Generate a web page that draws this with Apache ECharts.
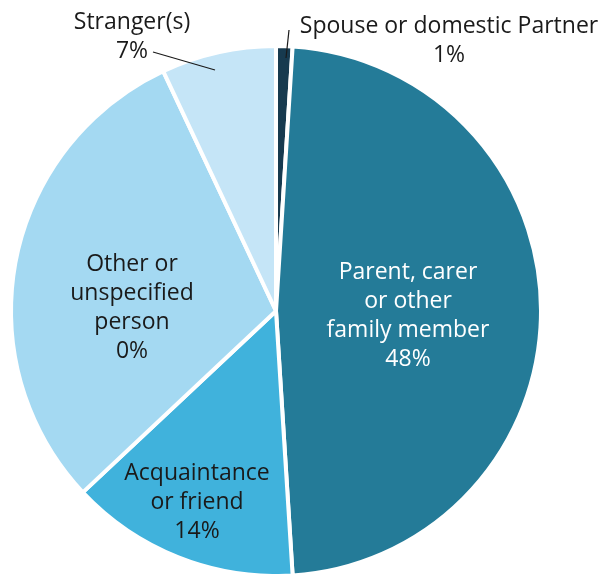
<!DOCTYPE html>
<html>
<head>
	<meta charset="utf-8">
	<title></title>
</head>
<body style="height: 100%; margin: 0">
<div id="container" style="width: 608px; height: 574px"></div>

<script src="https://fastly.jsdelivr.net/npm/echarts@6/dist/echarts.min.js"></script>

<script type="text/javascript">
	// data
	var categories = ['Spouse or domestic Partner', 'Parent, carer or other family member', 'Acquaintance or friend', 'Other or unspecified person', 'Stranger(s)'];
	var labelNames = ['Spouse or domestic Partner', 'Parent, carer\nor other\nfamily member', 'Acquaintance\nor friend', 'Other or\nunspecified\nperson', 'Stranger(s)'];
	var values = [1, 48, 14, 30, 7];
	var pctLabels = ['1%', '48%', '14%', '0%', '7%'];

	// look
	var colors = ['#173a4f', '#247b98', '#40b2dc', '#a4d9f2', '#c5e5f7'];
	var textColors = ['#1a1a1a', '#ffffff', '#1a1a1a', '#1a1a1a', '#1a1a1a'];
	var labelPos = [[449, 41], [408, 316], [197, 502], [132, 308], [132, 37]];
	// leader lines for the two small slices (label annotation only)
	var leaderLines = [
		[[286, 58], [289, 30]],
		[[215, 70], [153, 52]]
	];

	var dom = document.getElementById('container');
	var myChart = echarts.init(dom, null, { renderer: 'canvas' });

	var dataList = categories.map(function (c, i) {
		return {
			name: c,
			value: values[i],
			itemStyle: { color: colors[i] },
			label: {
				color: textColors[i],
				formatter: labelNames[i] + '\n' + pctLabels[i]
			}
		};
	});

	var option = {
		animation: false,
		graphic: leaderLines.map(function (pts) {
			return {
				type: 'polyline',
				z: 100,
				silent: true,
				shape: { points: pts },
				style: { stroke: '#1a1a1a', lineWidth: 1.2, fill: null }
			};
		}),
		series: [
			{
				type: 'pie',
				center: [276, 311],
				radius: [0, 265],
				startAngle: 90,
				clockwise: true,
				silent: true,
				itemStyle: {
					borderColor: '#fff',
					borderWidth: 4
				},
				label: {
					show: true,
					position: 'inside',
					fontFamily: 'Open Sans',
					fontSize: 23,
					lineHeight: 29,
					align: 'center',
					overflow: 'none'
				},
				labelLine: { show: false },
				labelLayout: function (p) {
					var pos = labelPos[p.dataIndex];
					return {
						x: pos[0],
						y: pos[1],
						align: 'center',
						verticalAlign: 'middle'
					};
				},
				emphasis: { disabled: true },
				data: dataList
			}
		]
	};

	myChart.setOption(option);
	window.addEventListener('resize', myChart.resize);
</script>
</body>
</html>
